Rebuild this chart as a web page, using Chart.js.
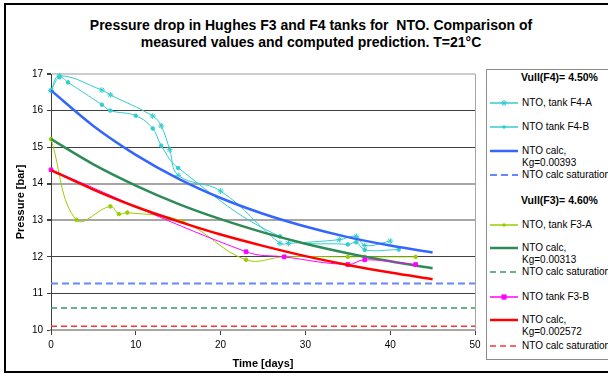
<!DOCTYPE html>
<html>
<head>
<meta charset="utf-8">
<script src="https://cdn.jsdelivr.net/npm/chart.js@4.4.0/dist/chart.umd.min.js"></script>
<style>
  html, body { margin: 0; padding: 0; background: #fff; overflow: hidden; }
  body { width: 608px; height: 374px; position: relative; font-family: "Liberation Sans", Arial, sans-serif; }
  #frame { position: absolute; left: 4px; top: 3px; width: 700px; height: 366px; border: 2px solid #000; }
  #title { position: absolute; left: 0; top: 17px; width: 622px; text-align: center;
           font-weight: bold; font-size: 14px; line-height: 16.5px; color: #000; }
  #priceChart { position: absolute; left: 0; top: 0; }
  #legend { position: absolute; left: 486px; top: 69px; width: 160px; height: 289px;
            border: 1px solid #8c8c8c; background: #fff; }
  .lg-row { position: absolute; left: 0; height: 12px; font-size: 10px; line-height: 12px; color: #000; white-space: nowrap; }
  .lg-row svg { position: absolute; left: 3px; top: 0; }
  .lg-row span { position: absolute; left: 35px; top: 0; }
  .lg-head { position: absolute; left: 34px; font-size: 10.5px; font-weight: bold; line-height: 12px; white-space: nowrap; }
</style>
</head>
<body>
<div id="frame"></div>
<div id="title">Pressure drop in Hughes F3 and F4 tanks for&nbsp; NTO. Comparison of<br>measured values and computed prediction. T=21°C</div>
<canvas id="priceChart" width="608" height="374"></canvas>
<div id="legend"></div>

<script>
// === 量測值：F4 桶 (days / bar) ===
const F4A_DAYS = [0, 1, 6, 7, 12, 13, 14, 15, 20, 27, 28, 34, 36, 37, 40];
const F4A_BAR = [16.55, 16.95, 16.56, 16.43, 15.85, 15.58, 14.93, 14.23, 13.8, 12.37, 12.37, 12.47, 12.56, 12.31, 12.43];

const F4B_DAYS = [0, 1, 2, 6, 7, 10, 12, 13, 15, 27, 35, 36, 37, 41];
const F4B_BAR = [16.55, 16.91, 16.77, 16.16, 16.0, 15.86, 15.51, 15.04, 14.43, 12.56, 12.34, 12.4, 12.19, 12.2];

// === 量測值：F3 桶 ===
const F3A_DAYS = [0, 3, 7, 8, 9, 15.5, 23, 27.5, 35, 37, 43];
const F3A_BAR = [15.22, 13.01, 13.38, 13.17, 13.21, 12.97, 11.92, 12.0, 12.0, 12.0, 12.0];

const F3B_DAYS = [0, 23, 27.5, 35, 37, 43];
const F3B_BAR = [14.38, 12.14, 12.0, 11.79, 11.92, 11.79];

// === 計算曲線 ===
const CALC_DAYS = [0, 5, 10, 15, 20, 25, 30, 35, 40, 45];
const CALC_F4 = [16.55, 15.58, 14.79, 14.14, 13.61, 13.18, 12.83, 12.54, 12.31, 12.12];
const CALC_F3_313 = [15.22, 14.53, 13.95, 13.45, 13.03, 12.67, 12.36, 12.1, 11.88, 11.69];
const CALC_F3_2572 = [14.37, 13.84, 13.37, 12.97, 12.61, 12.3, 12.02, 11.78, 11.57, 11.39];

// 飽和壓力 (水平虛線)
const SAT_DAYS = [0, 50];
const SAT_F4 = [11.27, 11.27];
const SAT_F3_313 = [10.6, 10.6];
const SAT_F3_2572 = [10.1, 10.1];

// 軸刻度
const Y_TICKS = [10, 11, 12, 13, 14, 15, 16, 17];
const X_TICKS = [0, 10, 20, 30, 40, 50];

// 工具：days + values 轉成 {x, y}
function toPoints(days, values) {
  return days.map((d, i) => ({ x: d, y: values[i] }));
}

const CYAN = "#33cccc";

function measured(label, days, values, color, style, radius) {
  return {
    label,
    data: toPoints(days, values),
    borderColor: color,
    backgroundColor: color,
    borderWidth: 1,
    tension: 0.4,
    pointStyle: style,
    pointRadius: radius,
    pointBorderWidth: 1,
    clip: 6
  };
}

function calc(label, values, color) {
  return {
    label,
    data: toPoints(CALC_DAYS, values),
    borderColor: color,
    backgroundColor: color,
    borderWidth: 2.5,
    cubicInterpolationMode: "monotone",
    pointRadius: 0
  };
}

function saturation(values, color, width, dash) {
  return {
    label: "NTO calc saturation",
    data: toPoints(SAT_DAYS, values),
    borderColor: color,
    backgroundColor: color,
    borderWidth: width,
    borderDash: dash,
    pointRadius: 0
  };
}

const datasets = [
  measured("NTO, tank F4-A", F4A_DAYS, F4A_BAR, CYAN, "star", 3),
  measured("NTO tank F4-B", F4B_DAYS, F4B_BAR, CYAN, "circle", 1.8),
  calc("NTO calc, Kg=0.00393", CALC_F4, "#3366ff"),
  saturation(SAT_F4, "#6688ff", 2, [7, 4]),
  measured("NTO, tank F3-A", F3A_DAYS, F3A_BAR, "#99cc00", "circle", 1.8),
  calc("NTO calc, Kg=0.00313", CALC_F3_313, "#2e8b57"),
  saturation(SAT_F3_313, "#339966", 1.5, [6, 4]),
  measured("NTO tank F3-B", F3B_DAYS, F3B_BAR, "#ff00ff", "rect", 2.6),
  calc("NTO calc, Kg=0.002572", CALC_F3_2572, "#ff0000"),
  saturation(SAT_F3_2572, "#ff3333", 1.5, [6, 4])
];

// 後面的系列畫在上層
datasets.forEach((ds, i) => { ds.order = datasets.length - i; });

// 水平格線顏色 / 粗細
function gridColor(v) {
  if (v === 17) return "#cccccc";
  if (v === 14 || v === 13) return "#a6a6a6";
  if (v === 10) return "rgba(0,0,0,0)";
  return "#404040";
}
function gridWidth(v) {
  return v === 17 || v === 14 || v === 13 ? 2 : 1;
}

const chart = new Chart(document.getElementById("priceChart"), {
  type: "line",
  data: { datasets },
  options: {
    responsive: false,
    animation: false,
    layout: { padding: { left: 0, top: 74, right: 133, bottom: 3 } },
    plugins: { legend: { display: false }, title: { display: false }, tooltip: { enabled: false } },
    scales: {
      x: {
        type: "linear",
        min: 0,
        max: 50,
        afterBuildTicks: (s) => { s.ticks = X_TICKS.map((v) => ({ value: v })); },
        afterFit: (s) => { s.height = 41; },
        border: { color: "#a6a6a6", width: 2 },
        grid: {
          color: (c) => (c.tick && c.tick.value === 50 ? "#a6a6a6" : "rgba(0,0,0,0)"),
          tickColor: "#404040",
          tickLength: 5
        },
        ticks: { color: "#000", font: { family: "Liberation Sans", size: 10 }, padding: 4, maxRotation: 0 },
        title: {
          display: true,
          text: "Time [days]",
          color: "#000",
          font: { family: "Liberation Sans", size: 11, weight: "bold" },
          padding: { top: 0, bottom: 0 }
        }
      },
      y: {
        min: 10,
        max: 17,
        afterBuildTicks: (s) => { s.ticks = Y_TICKS.map((v) => ({ value: v })); },
        afterFit: (s) => { s.width = 51; },
        border: { color: "#404040", width: 1 },
        grid: {
          color: (c) => gridColor(c.tick.value),
          lineWidth: (c) => gridWidth(c.tick.value),
          tickColor: "#404040",
          tickLength: 4
        },
        ticks: { color: "#000", font: { family: "Liberation Sans", size: 10 }, padding: 4 },
        title: {
          display: true,
          text: "Pressure [bar]",
          color: "#000",
          font: { family: "Liberation Sans", size: 11, weight: "bold" },
          padding: { top: 14, bottom: 0 }
        }
      }
    }
  }
});

// === 右側圖例 ===
const LEGEND_ROWS = [
  { head: "Vull(F4)= 4.50%", y: 1 },
  { ds: 0, y: 27, text: ["NTO, tank F4-A"] },
  { ds: 1, y: 51, text: ["NTO tank F4-B"] },
  { ds: 2, y: 75, text: ["NTO calc,", "Kg=0.00393"] },
  { ds: 3, y: 99, text: ["NTO calc saturation"] },
  { head: "Vull(F3)= 4.60%", y: 124 },
  { ds: 4, y: 149, text: ["NTO, tank F3-A"] },
  { ds: 5, y: 172, text: ["NTO calc,", "Kg=0.00313"] },
  { ds: 6, y: 196, text: ["NTO calc saturation"] },
  { ds: 7, y: 221, text: ["NTO tank F3-B"] },
  { ds: 8, y: 244, text: ["NTO calc,", "Kg=0.002572"] },
  { ds: 9, y: 270, text: ["NTO calc saturation"] }
];

function markerSvg(ds, cx, cy) {
  const c = ds.borderColor;
  if (!ds.pointRadius) return "";
  if (ds.pointStyle === "star") {
    const r = ds.pointRadius;
    return `<path d="M${cx - r} ${cy}H${cx + r}M${cx} ${cy - r}V${cy + r}M${cx - r * 0.7} ${cy - r * 0.7}L${cx + r * 0.7} ${cy + r * 0.7}M${cx - r * 0.7} ${cy + r * 0.7}L${cx + r * 0.7} ${cy - r * 0.7}" stroke="${c}" stroke-width="1"/>`;
  }
  if (ds.pointStyle === "rect") {
    const r = ds.pointRadius;
    return `<rect x="${cx - r}" y="${cy - r}" width="${2 * r}" height="${2 * r}" fill="${c}"/>`;
  }
  return `<circle cx="${cx}" cy="${cy}" r="${ds.pointRadius}" fill="${c}"/>`;
}

function legendSample(ds) {
  const dash = ds.borderDash ? `stroke-dasharray="${ds.borderDash.join(",")}"` : "";
  return `<svg width="28" height="12"><line x1="0" y1="6" x2="28" y2="6" stroke="${ds.borderColor}" stroke-width="${ds.borderWidth === 1 ? 1.5 : ds.borderWidth}" ${dash}/>${markerSvg(ds, 14, 6)}</svg>`;
}

function renderLegend() {
  const box = document.getElementById("legend");
  box.innerHTML = "";
  LEGEND_ROWS.forEach((row) => {
    const div = document.createElement("div");
    if (row.head) {
      div.className = "lg-head";
      div.style.top = row.y + "px";
      div.textContent = row.head;
    } else {
      const ds = chart.data.datasets[row.ds];
      div.className = "lg-row";
      div.style.top = row.y + "px";
      div.innerHTML = legendSample(ds) + row.text.map((t, i) => `<span style="top:${i * 12}px">${t}</span>`).join("");
    }
    box.appendChild(div);
  });
}

renderLegend();
</script>
</body>
</html>
